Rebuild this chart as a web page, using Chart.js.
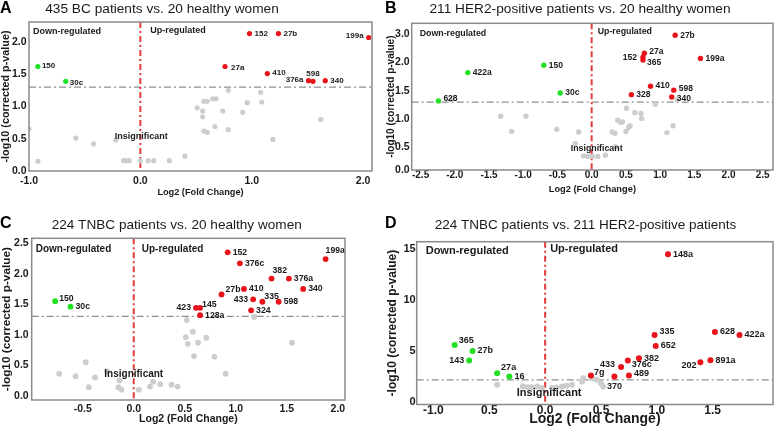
<!DOCTYPE html>
<html>
<head>
<meta charset="utf-8">
<script src="https://cdn.jsdelivr.net/npm/chart.js@4.4.0/dist/chart.umd.min.js"></script>
<style>
  body { margin: 0; background: #fff; width: 777px; height: 428px; position: relative; overflow: hidden; }
  canvas { position: absolute; }
</style>
</head>
<body>
<canvas id="chartA" width="385" height="210" style="left:0;top:0;width:385px;height:210px"></canvas>
<canvas id="chartB" width="392" height="210" style="left:385px;top:0;width:392px;height:210px"></canvas>
<canvas id="chartC" width="385" height="218" style="left:0;top:210px;width:385px;height:218px"></canvas>
<canvas id="chartD" width="392" height="218" style="left:385px;top:210px;width:392px;height:218px"></canvas>
<script>
const FONT = '"Liberation Sans", Arial, Helvetica, sans-serif';
const RED = '#e8141a';
const GREEN = '#22e022';
const GREY = '#cdcdcd';

// A: 435 BC patients vs. 20 healthy women
const aDownNames = ['150', '30c'];
const aDownX = [-0.92, -0.67];
const aDownY = [1.62, 1.39];
const aUpNames = ['152', '27b', '199a', '27a', '410', '376a', '598', '340'];
const aUpX = [0.98, 1.24, 2.05, 0.76, 1.14, 1.51, 1.55, 1.66];
const aUpY = [2.13, 2.13, 2.07, 1.62, 1.51, 1.40, 1.39, 1.40];
const aGreyX = [-1.0, -0.92, -0.58, -0.42, -0.22, -0.15, -0.13, -0.10, 0.0, 0.07, 0.12, 0.26, 0.40, 0.51, 0.56, 0.57, 0.60, 0.65, 0.68, 0.56, 0.57, 0.60, 0.67, 0.79, 0.74, 0.79, 0.92, 0.96, 1.08, 1.09, 1.19, 1.62];
const aGreyY = [0.65, 0.15, 0.51, 0.42, 0.48, 0.16, 0.16, 0.16, 0.16, 0.16, 0.16, 0.16, 0.23, 0.98, 0.93, 1.08, 1.08, 1.12, 1.12, 0.84, 0.62, 0.60, 0.69, 1.25, 0.93, 0.64, 0.91, 1.06, 1.22, 1.07, 0.49, 0.80];
const aXTicks = [-1, 0, 1, 2];
const aXTickLabels = ['-1.0', '0.0', '1.0', '2.0'];
const aYTicks = [0, 0.5, 1, 1.5, 2];
const aYTickLabels = ['0.0', '0.5', '1.0', '1.5', '2.0'];

// B: 211 HER2-positive patients vs. 20 healthy women
const bDownNames = ['628', '422a', '150', '30c'];
const bDownX = [-2.24, -1.81, -0.70, -0.46];
const bDownY = [1.32, 1.82, 1.95, 1.46];
const bUpNames = ['27b', '27a', '152', '365', '199a', '410', '598', '328', '340'];
const bUpX = [1.22, 0.77, 0.75, 0.75, 1.59, 0.86, 1.20, 0.58, 1.17];
const bUpY = [2.48, 2.16, 2.09, 2.04, 2.07, 1.58, 1.51, 1.43, 1.39];
const bGreyX = [-2.05, -1.33, -1.17, -0.96, -0.51, -0.19, -0.24, -0.12, -0.06, 0.01, 0.09, 0.20, 0.30, 0.34, 0.35, 0.38, 0.43, 0.45, 0.50, 0.54, 0.56, 0.51, 0.63, 0.72, 0.73, 0.93, 1.10, 1.19, 1.25];
const bGreyY = [1.34, 1.05, 0.78, 1.05, 0.82, 0.77, 0.57, 0.35, 0.34, 0.34, 0.34, 0.36, 0.77, 0.75, 0.51, 0.98, 0.94, 0.95, 0.78, 0.85, 0.88, 1.19, 1.11, 1.10, 1.01, 1.26, 0.76, 0.88, 1.34];
const bXTicks = [-2.5, -2, -1.5, -1, -0.5, 0, 0.5, 1, 1.5, 2, 2.5];
const bXTickLabels = ['-2.5', '-2.0', '-1.5', '-1.0', '-0.5', '0.0', '0.5', '1.0', '1.5', '2.0', '2.5'];
const bYTicks = [0.1, 0.5, 1, 1.5, 2, 2.5];
const bYTickLabels = ['0.0', '0.5', '1.0', '1.5', '2.0', '3.0'];

// C: 224 TNBC patients vs. 20 healthy women
const cDownNames = ['150', '30c'];
const cDownX = [-0.77, -0.62];
const cDownY = [1.55, 1.46];
const cUpNames = ['152', '376c', '199a', '382', '376a', '340', '27b', '410', '433', '335', '598', '324', '423', '145', '128a'];
const cUpX = [0.92, 1.04, 1.88, 1.35, 1.52, 1.66, 0.86, 1.08, 1.17, 1.26, 1.42, 1.15, 0.61, 0.65, 0.65];
const cUpY = [2.35, 2.17, 2.24, 1.92, 1.92, 1.75, 1.66, 1.75, 1.58, 1.54, 1.54, 1.40, 1.44, 1.44, 1.32];
const cGreyX = [-0.73, -0.57, -0.47, -0.44, -0.38, -0.26, -0.15, -0.12, -0.14, 0.05, 0.16, 0.19, 0.26, 0.37, 0.43, 0.52, 0.51, 0.58, 0.53, 0.63, 0.71, 0.59, 0.79, 0.90, 1.18, 1.55];
const cGreyY = [0.36, 0.32, 0.55, 0.14, 0.30, 0.40, 0.14, 0.10, 0.25, 0.10, 0.15, 0.23, 0.19, 0.18, 0.15, 1.24, 0.96, 1.05, 0.85, 0.87, 0.95, 0.65, 0.64, 0.36, 1.29, 0.87];
const cXTicks = [-0.5, 0, 0.5, 1, 1.5, 2];
const cXTickLabels = ['-0.5', '0.0', '0.5', '1.0', '1.5', '2.0'];
const cYTicks = [0, 0.5, 1, 1.5, 2, 2.5];
const cYTickLabels = ['0.0', '0.5', '1.0', '1.5', '2.0', '2.5'];

// D: 224 TNBC patients vs. 211 HER2-positive patients
const dDownNames = ['365', '27b', '143', '27a', '16'];
const dDownX = [-0.81, -0.65, -0.68, -0.43, -0.32];
const dDownY = [5.62, 5.03, 4.09, 2.86, 2.53];
const dUpNames = ['148a', '335', '652', '628', '422a', '382', '376c', '433', '891a', '202', '7g', '489', '370'];
const dUpX = [1.10, 0.98, 0.99, 1.52, 1.74, 0.84, 0.74, 0.68, 1.48, 1.39, 0.41, 0.75, 0.62];
const dUpY = [14.48, 6.59, 5.52, 6.88, 6.59, 4.32, 4.09, 3.47, 4.12, 3.93, 2.63, 2.63, 2.53];
const dGreyX = [-0.43, -0.20, -0.16, -0.12, -0.07, -0.03, 0.06, 0.10, 0.15, 0.19, 0.24, 0.33, 0.34, 0.42, 0.46, 0.50, 0.52];
const dGreyY = [1.72, 1.56, 1.49, 1.49, 1.56, 1.40, 1.40, 1.46, 1.56, 1.62, 1.72, 2.05, 2.37, 2.37, 2.21, 1.88, 1.56];
const dXTicks = [-1, -0.5, 0, 0.5, 1, 1.5];
const dXTickLabels = ['-1.0', '0.5', '0.0', '0.5', '1.0', '1.5'];
const dYTicks = [0, 5, 10, 15];
const dYTickLabels = ['0', '5', '10', '15'];

const X_TITLE = 'Log2 (Fold Change)';
const Y_TITLE = '-log10 (corrected p-value)';

function pts(xs, ys) {
  return xs.map((v, i) => ({ x: v, y: ys[i] }));
}

function volcano(id, d, look) {
  const canvas = document.getElementById(id);
  const W = canvas.width, H = canvas.height;
  const a = look.area;

  const overlay = {
    id: 'overlay',
    beforeDatasetsDraw(chart) {
      const { ctx, chartArea: ca, scales: { x, y } } = chart;
      ctx.save();
      ctx.beginPath();
      ctx.rect(ca.left, ca.top, ca.right - ca.left, ca.bottom - ca.top);
      ctx.clip();
      const ty = y.getPixelForValue(d.threshold);
      ctx.strokeStyle = '#8e8e8e';
      ctx.lineWidth = 1.3;
      ctx.setLineDash([7, 3, 2, 3]);
      ctx.beginPath(); ctx.moveTo(ca.left, ty); ctx.lineTo(ca.right, ty); ctx.stroke();
      const zx = x.getPixelForValue(0);
      ctx.strokeStyle = '#e23b3b';
      ctx.lineWidth = 2;
      ctx.setLineDash([6, 3, 2, 3]);
      ctx.beginPath(); ctx.moveTo(zx, ca.top); ctx.lineTo(zx, ca.bottom); ctx.stroke();
      ctx.restore();
    },
    afterDatasetsDraw(chart) {
      const { ctx, scales: { x, y } } = chart;
      ctx.save();
      ctx.fillStyle = '#1a1a1a';
      ctx.textBaseline = 'middle';
      // miRNA labels next to the significant points
      ctx.font = `bold ${look.lab}px ${FONT}`;
      [[0, d.upNames], [1, d.downNames]].forEach(([di, names]) => {
        chart.getDatasetMeta(di).data.forEach((el, j) => {
          const p = look.labelPos[names[j]] || [5, 0];
          ctx.textAlign = p[2] || (p[0] < 0 ? 'right' : 'left');
          ctx.fillText(names[j], el.x + p[0], el.y + p[1]);
        });
      });
      // region notes
      ctx.font = `bold ${look.ann}px ${FONT}`;
      look.notes.forEach(([t, xv, yv, dx, align]) => {
        const px = xv === 'min' ? chart.chartArea.left : x.getPixelForValue(xv);
        ctx.textAlign = align;
        ctx.fillText(t, px + dx, y.getPixelForValue(yv));
      });
      ctx.restore();
    },
    afterDraw(chart) {
      const { ctx, chartArea: ca } = chart;
      ctx.save();
      ctx.strokeStyle = '#8a8a8a';
      ctx.lineWidth = 1.5;
      ctx.strokeRect(ca.left, ca.top, ca.right - ca.left, ca.bottom - ca.top);
      ctx.fillStyle = '#1a1a1a';
      ctx.textBaseline = 'middle';
      ctx.textAlign = 'center';
      ctx.font = `${look.titleSize}px ${FONT}`;
      ctx.fillText(d.title, look.titleX, look.titleY);
      ctx.textAlign = 'left';
      ctx.fillStyle = '#000';
      ctx.font = `bold 16px ${FONT}`;
      ctx.fillText(d.letter, 0, look.letterY);
      ctx.restore();
    }
  };

  new Chart(canvas, {
    type: 'scatter',
    data: {
      datasets: [
        { label: 'Up-regulated', data: pts(d.upX, d.upY), backgroundColor: RED, pointRadius: look.r, borderWidth: 0 },
        { label: 'Down-regulated', data: pts(d.downX, d.downY), backgroundColor: GREEN, pointRadius: look.r, borderWidth: 0 },
        { label: 'Insignificant', data: pts(d.greyX, d.greyY), backgroundColor: GREY, pointRadius: look.r, borderWidth: 0 }
      ]
    },
    options: {
      responsive: false,
      animation: false,
      layout: { padding: { left: 0, top: a.top, right: W - a.right, bottom: 0 } },
      scales: {
        x: {
          type: 'linear',
          min: d.xMin, max: d.xMax,
          afterBuildTicks: s => { s.ticks = d.xTicks.map(v => ({ value: v })); },
          afterFit: s => { s.height = H - a.bottom; },
          grid: { display: false, drawTicks: false },
          border: { display: false },
          ticks: {
            autoSkip: false, maxRotation: 0, padding: look.xTickPad, color: '#1a1a1a',
            font: { family: FONT, size: look.xTick, weight: 'bold', lineHeight: 1 },
            callback: v => d.xTickLabels[d.xTicks.indexOf(v)]
          },
          title: {
            display: true, text: X_TITLE, color: '#1a1a1a',
            font: { family: FONT, size: look.xTitle, weight: 'bold', lineHeight: 1.2 },
            padding: { top: 0, bottom: look.xTitlePad }
          }
        },
        y: {
          type: 'linear',
          min: d.yMin, max: d.yMax,
          afterBuildTicks: s => { s.ticks = d.yTicks.map(v => ({ value: v })); },
          afterFit: s => { s.width = a.left; },
          grid: { display: false, drawTicks: false },
          border: { display: false },
          ticks: {
            autoSkip: false, padding: look.yTickPad, color: '#1a1a1a',
            font: { family: FONT, size: look.yTick, weight: 'bold', lineHeight: 1 },
            callback: v => d.yTickLabels[d.yTicks.indexOf(v)]
          },
          title: {
            display: true, text: Y_TITLE, color: '#1a1a1a',
            font: { family: FONT, size: look.yTitle, weight: 'bold', lineHeight: 1.2 },
            padding: { top: 0, bottom: 0 }
          }
        }
      },
      plugins: { legend: { display: false }, tooltip: { enabled: false } }
    },
    plugins: [overlay]
  });
}

volcano('chartA', {
  letter: 'A', title: '435 BC patients vs. 20 healthy women',
  upNames: aUpNames, upX: aUpX, upY: aUpY, downNames: aDownNames, downX: aDownX, downY: aDownY,
  greyX: aGreyX, greyY: aGreyY, threshold: 1.3,
  xMin: -1.0, xMax: 2.08, yMin: 0, yMax: 2.31,
  xTicks: aXTicks, xTickLabels: aXTickLabels, yTicks: aYTicks, yTickLabels: aYTickLabels
}, {
  area: { left: 29, right: 372, top: 22, bottom: 171 },
  r: 2.6, xTick: 10.5, yTick: 10.5, xTickPad: 4.5, yTickPad: 2.5,
  xTitle: 9.2, xTitlePad: 11.8, yTitle: 10.8, ann: 9, lab: 8,
  titleSize: 13.7, titleX: 162, titleY: 9, letterY: 9,
  notes: [['Down-regulated', 'min', 2.17, 4, 'left'], ['Up-regulated', 0, 2.18, 10, 'left'], ['Insignificant', 0, 0.53, 1, 'center']],
  labelPos: { '150': [4, -1], '30c': [4, 1], '199a': [-5, -2], '27a': [6, 1], '410': [5, -1], '376a': [-5, -1], '598': [0, -8, 'center'] }
});

volcano('chartB', {
  letter: 'B', title: '211 HER2-positive patients vs. 20 healthy women',
  upNames: bUpNames, upX: bUpX, upY: bUpY, downNames: bDownNames, downX: bDownX, downY: bDownY,
  greyX: bGreyX, greyY: bGreyY, threshold: 1.3,
  xMin: -2.63, xMax: 2.65, yMin: 0.1, yMax: 2.69,
  xTicks: bXTicks, xTickLabels: bXTickLabels, yTicks: bYTicks, yTickLabels: bYTickLabels
}, {
  area: { left: 26.7, right: 389.3, top: 23.3, bottom: 170 },
  r: 2.7, xTick: 10, yTick: 10.5, xTickPad: 0.7, yTickPad: 2,
  xTitle: 9.3, xTitlePad: 15.2, yTitle: 10, ann: 8.8, lab: 8.5,
  titleSize: 13.7, titleX: 195, titleY: 9, letterY: 9,
  notes: [['Down-regulated', 'min', 2.51, 8, 'left'], ['Up-regulated', 0, 2.54, 6, 'left'], ['Insignificant', 0, 0.48, 5, 'center']],
  labelPos: { '628': [5, -2], '27a': [5, -2], '152': [-6, 0], '365': [4, 3], '410': [5, -1], '598': [5, -1], '340': [5, 1.5] }
});

volcano('chartC', {
  letter: 'C', title: '224 TNBC patients vs. 20 healthy women',
  upNames: cUpNames, upX: cUpX, upY: cUpY, downNames: cDownNames, downX: cDownX, downY: cDownY,
  greyX: cGreyX, greyY: cGreyY, threshold: 1.3,
  xMin: -1.0, xMax: 2.07, yMin: -0.07, yMax: 2.58,
  xTicks: cXTicks, xTickLabels: cXTickLabels, yTicks: cYTicks, yTickLabels: cYTickLabels
}, {
  area: { left: 31.7, right: 345, top: 28.3, bottom: 190 },
  r: 2.9, xTick: 10.5, yTick: 10.5, xTickPad: 3.7, yTickPad: 3,
  xTitle: 10.5, xTitlePad: 2.4, yTitle: 11.8, ann: 10, lab: 8.7,
  titleSize: 13.6, titleX: 176.7, titleY: 15, letterY: 14,
  notes: [['Down-regulated', 'min', 2.40, 4, 'left'], ['Up-regulated', 0, 2.40, 8, 'left'], ['Insignificant', 0, 0.36, 0, 'center']],
  labelPos: { '150': [4, -3], '199a': [0, -8], '382': [1, -8], '27b': [4, -5], '433': [-5, 0], '335': [2, -5], '423': [-5, 0], '145': [2, -3] }
});

volcano('chartD', {
  letter: 'D', title: '224 TNBC patients vs. 211 HER2-positive patients',
  upNames: dUpNames, upX: dUpX, upY: dUpY, downNames: dDownNames, downX: dDownX, downY: dDownY,
  greyX: dGreyX, greyY: dGreyY, threshold: 2.2,
  xMin: -1.15, xMax: 2.04, yMin: -0.2, yMax: 15.7,
  xTicks: dXTicks, xTickLabels: dXTickLabels, yTicks: dYTicks, yTickLabels: dYTickLabels
}, {
  area: { left: 31.7, right: 388.3, top: 31.7, bottom: 194.5 },
  r: 3, xTick: 12, yTick: 11, xTickPad: 0.5, yTickPad: 1,
  xTitle: 14, xTitlePad: 0, yTitle: 12, ann: 11, lab: 9,
  titleSize: 13.5, titleX: 200.5, titleY: 15, letterY: 14,
  notes: [['Down-regulated', 'min', 14.8, 9, 'left'], ['Up-regulated', 0, 15.0, 5, 'left'], ['Insignificant', 0, 0.97, 4, 'center']],
  labelPos: { '365': [4, -4], '143': [-5, 0], '27a': [4, -6], '335': [5, -3], '376c': [4, 4], '433': [-6, -2], '202': [-4, 3], '7g': [3, -3], '489': [5, -2], '370': [0, 10, 'center'] }
});
</script>
</body>
</html>
